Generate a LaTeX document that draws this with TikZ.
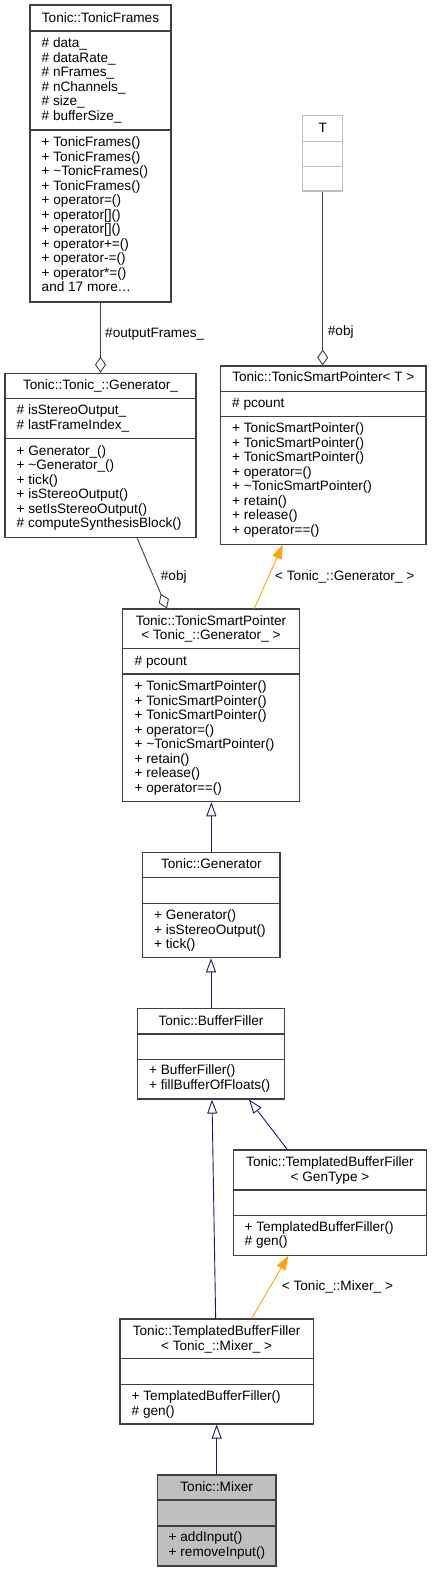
\documentclass[tikz,border=0pt]{standalone}
\usepackage{fontspec}
\setmainfont{Liberation Sans}
\usetikzlibrary{arrows.meta}
\definecolor{inh}{HTML}{191970}
\definecolor{tpl}{HTML}{FFA500}
\definecolor{bord}{HTML}{404040}
\definecolor{grayfill}{HTML}{BFBFBF}
\newcommand\fs{\fontsize{13.6}{14.5}\selectfont}
\newcommand\threedots{.\kern0.5pt.\kern0.5pt.}
\tikzset{
  cls/.style={draw=bord, line width=1.1pt, inner sep=0pt, fill=white, rectangle},
  ghost/.style={draw=grayfill, line width=1.1pt, inner sep=0pt, fill=white, rectangle},
  divline/.style={draw=bord, line width=1.1pt},
  ghostline/.style={draw=grayfill, line width=1.1pt},
  row/.style={anchor=base west, inner sep=0pt, font=\fs},
  ttl/.style={anchor=base, inner sep=0pt, font=\fs},
  lbl/.style={anchor=base west, inner sep=0pt, font=\fs},
  aggr/.style={draw=bord, line width=0.9pt, -{Diamond[open, length=16pt, width=11pt, line width=0.9pt]}},
  inherit/.style={draw=inh, line width=0.9pt, -{Triangle[open, length=14pt, width=10pt, line width=0.9pt]}},
  tmpl/.style={draw=tpl, line width=0.9pt, -{Triangle[length=14pt, width=10pt]}, fill=none},
}
\newcommand\clsrows[4]{\foreach \t [count=\k] in {#4} {\node[row] (#1-\k) at ({#2},{#3+(\k-1)*14.5}) {\t};}}
\newcommand\divl[2]{\draw[divline] (#1.west |- 0,#2) -- (#1.east |- 0,#2);}
\begin{document}
\begin{tikzpicture}[x=1pt, y=-1pt]
\path[use as bounding box] (0,0) rectangle (432,1572);

% ---------- Tonic::TonicFrames
\node[cls, minimum width=141pt, minimum height=297pt] (tf) at (100.5,153.5) {};
\divl{tf}{31}\divl{tf}{130}
\node[ttl] (tf-t) at (100.5,22) {Tonic::TonicFrames};
\clsrows{tfa}{41.5}{47.5}{{\# data\_},{\# dataRate\_},{\# nFrames\_},{\# nChannels\_},{\# size\_},{\# bufferSize\_}}
\clsrows{tfm}{41.5}{146.5}{{+ TonicFrames()},{+ TonicFrames()},{+ \textasciitilde TonicFrames()},{+ TonicFrames()},{+ operator=()},{+ operator[]()},{+ operator[]()},{+ operator+=()},{+ operator-=()},{+ operator*=()},{and 17 more\threedots}}

% ---------- T
\node[ghost, minimum width=40pt, minimum height=75.3pt] (T) at (322.7,153.35) {};
\draw[ghostline] (T.west |- 0,141.7) -- (T.east |- 0,141.7);
\draw[ghostline] (T.west |- 0,166.7) -- (T.east |- 0,166.7);
\node[ttl] (T-t) at (322.7,132) {T};

% ---------- Tonic::Tonic_::Generator_
\node[cls, minimum width=191pt, minimum height=164pt] (gen_) at (100.5,455.3) {};
\divl{gen_}{398.7}\divl{gen_}{438.3}
\node[ttl] (gen_-t) at (100.5,389.5) {Tonic::Tonic\_::Generator\_};
\clsrows{gena}{16.5}{414.5}{{\# isStereoOutput\_},{\# lastFrameIndex\_}}
\clsrows{genm}{16.5}{455.2}{{+ Generator\_()},{+ \textasciitilde Generator\_()},{+ tick()},{+ isStereoOutput()},{+ setIsStereoOutput()},{\# computeSynthesisBlock()}}

% ---------- Tonic::TonicSmartPointer< T >
\node[cls, minimum width=205.3pt, minimum height=178.3pt] (tspT) at (323.35,455.15) {};
\divl{tspT}{391.7}\divl{tspT}{416.7}
\node[ttl] (tspT-t) at (323.35,381.8) {Tonic::TonicSmartPointer< T >};
\clsrows{tspTa}{232}{407.2}{{\# pcount}}
\clsrows{tspTm}{232}{432.8}{{+ TonicSmartPointer()},{+ TonicSmartPointer()},{+ TonicSmartPointer()},{+ operator=()},{+ \textasciitilde TonicSmartPointer()},{+ retain()},{+ release()},{+ operator==()}}

% ---------- Tonic::TonicSmartPointer< Tonic_::Generator_ >
\node[cls, minimum width=176.6pt, minimum height=192.7pt] (tspG) at (211,705.35) {};
\divl{tspG}{648.7}\divl{tspG}{674}
\node[ttl] (tspG-t1) at (211,625) {Tonic::TonicSmartPointer};
\node[ttl] (tspG-t2) at (211,639) {< Tonic\_::Generator\_ >};
\clsrows{tspGa}{134.5}{665.2}{{\# pcount}}
\clsrows{tspGm}{134.5}{690.5}{{+ TonicSmartPointer()},{+ TonicSmartPointer()},{+ TonicSmartPointer()},{+ operator=()},{+ \textasciitilde TonicSmartPointer()},{+ retain()},{+ release()},{+ operator==()}}

% ---------- Tonic::Generator
\node[cls, minimum width=137.3pt, minimum height=105pt] (gen) at (211.35,905.2) {};
\divl{gen}{877.7}\divl{gen}{903.3}
\node[ttl] (gen-t) at (211.35,868.8) {Tonic::Generator};
\clsrows{genxm}{154}{919.5}{{+ Generator()},{+ isStereoOutput()},{+ tick()}}

% ---------- Tonic::BufferFiller
\node[cls, minimum width=146.6pt, minimum height=90.3pt] (bf) at (211,1053.85) {};
\divl{bf}{1034}\divl{bf}{1059.3}
\node[ttl] (bf-t) at (211,1025.2) {Tonic::BufferFiller};
\clsrows{bfm}{149}{1074.5}{{+ BufferFiller()},{+ fillBufferOfFloats()}}

% ---------- Tonic::TemplatedBufferFiller< GenType >
\node[cls, minimum width=193.4pt, minimum height=105.3pt] (tbfG) at (330,1202.65) {};
\divl{tbfG}{1190}\divl{tbfG}{1215.7}
\node[ttl] (tbfG-t1) at (330,1166.2) {Tonic::TemplatedBufferFiller};
\node[ttl] (tbfG-t2) at (330,1181.2) {< GenType >};
\clsrows{tbfGm}{244.5}{1231.2}{{+ TemplatedBufferFiller()},{\# gen()}}

% ---------- Tonic::TemplatedBufferFiller< Tonic_::Mixer_ >
\node[cls, minimum width=193.3pt, minimum height=105pt] (tbfM) at (216.65,1371.5) {};
\divl{tbfM}{1358.7}\divl{tbfM}{1384.3}
\node[ttl] (tbfM-t1) at (216.65,1335.2) {Tonic::TemplatedBufferFiller};
\node[ttl] (tbfM-t2) at (216.65,1350.5) {< Tonic\_::Mixer\_ >};
\clsrows{tbfMm}{131.5}{1400.5}{{+ TemplatedBufferFiller()},{\# gen()}}

% ---------- Tonic::Mixer
\node[cls, fill=grayfill, minimum width=118.7pt, minimum height=91pt] (mix) at (216.65,1520.5) {};
\divl{mix}{1500}\divl{mix}{1526}
\node[ttl] (mix-t) at (216.65,1491.8) {Tonic::Mixer};
\clsrows{mixm}{168.5}{1541.8}{{+ addInput()},{+ removeInput()}}

% ---------- connectors
\draw[aggr] (tf.south) -- (gen_.north);
\node[lbl] (l1) at (105,337.2) {\#outputFrames\_};

\draw[aggr] (T.south) -- (T.south |- tspT.north);
\node[lbl] (l2) at (327.7,335.2) {\#obj};

\draw[aggr] ([xshift=36.5pt]gen_.south) -- ([xshift=-44pt]tspG.north);
\node[lbl] (l3) at (160.7,580.2) {\#obj};

\draw[tmpl] ([xshift=43.3pt]tspG.north) -- ([xshift=-40.6pt]tspT.south);
\node[lbl] (l4) at (275,580.2) {< Tonic\_::Generator\_ >};

\draw[inherit] (gen.north) -- (gen.north |- tspG.south);
\draw[inherit] (bf.north) -- (bf.north |- gen.south);
\draw[inherit] ([xshift=-42.7pt]tbfG.north) -- ([xshift=38pt]bf.south);
\draw[inherit] ([xshift=-1pt]tbfM.north) -- ([xshift=1pt]bf.south);

\draw[tmpl] ([xshift=35pt]tbfM.north) -- ([xshift=-41.7pt]tbfG.south);
\node[lbl] (l5) at (281.7,1290.5) {< Tonic\_::Mixer\_ >};

\draw[inherit] (mix.north) -- (mix.north |- tbfM.south);
\end{tikzpicture}
\end{document}
